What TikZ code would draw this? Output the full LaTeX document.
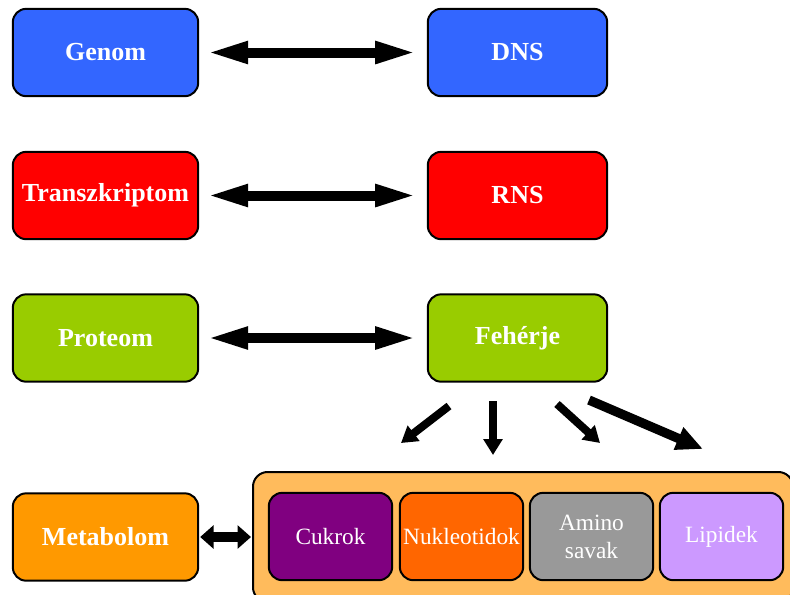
\documentclass[tikz,border=0pt]{standalone}
\usepackage{fontspec}
\setmainfont{Liberation Serif}
\usetikzlibrary{arrows.meta}

\definecolor{genomblue}{HTML}{3366FF}
\definecolor{proteomgreen}{HTML}{99CC00}
\definecolor{metaorange}{HTML}{FF9900}
\definecolor{poolorange}{HTML}{FFBB5C}
\definecolor{sugarpurple}{HTML}{800080}
\definecolor{nucorange}{HTML}{FF6600}
\definecolor{aminogray}{HTML}{999999}
\definecolor{lipidlilac}{HTML}{CC99FF}

\begin{document}
\begin{tikzpicture}[
            x = 0.75pt, y = -0.75pt, % pixel grid
            bigbox/.style = {draw = black, line width = 1.5pt, rounded corners = 10pt,
                             minimum width = 139pt, minimum height = 65.5pt, text = white,
                             font = \fontsize{19.5}{22}\selectfont\bfseries},
            rightbox/.style = {bigbox, minimum width = 134.5pt},
            smallbox/.style = {draw = black, line width = 1.5pt, rounded corners = 10pt,
                               minimum width = 92.5pt, minimum height = 65.5pt, text = white,
                               inner sep = 1pt, align = center,
                               font = \fontsize{17.5}{21}\selectfont},
            twoway/.style = {{Triangle[length=32pt,width=15pt]}-{Triangle[length=32pt,width=15pt]},
                             line width = 7.5pt, shorten < = 4.75pt, shorten > = 6.75pt},
            down/.style = {-{Triangle[length=12pt,width=14pt]}, line width = 6pt},
            longdown/.style = {-{Triangle[length=20pt,width=17pt]}, line width = 7pt}
        ]
\clip (0,0) rectangle (790,594);

\node[bigbox, fill=genomblue] (genom) at (105.5,52.5) {Genom};
\node[rightbox, fill=genomblue] (dns) at (517.5,52.5) {DNS};
\node[bigbox, fill=red] (transzkriptom) at (105.5,195.5) {Transzkriptom};
\node[rightbox, fill=red] (rns) at (517.5,195.5) {RNS};
\node[bigbox, fill=proteomgreen] (proteom) at (105.5,338) {Proteom};
\node[rightbox, fill=proteomgreen] (feherje) at (517.5,338) {Fehérje};
\node[bigbox, fill=metaorange] (metabolom) at (105.5,537) {Metabolom};

% pool of small molecules
\node[draw=black, line width=1.5pt, rounded corners=11pt, fill=poolorange,
      minimum width=405pt, minimum height=97.5pt] (pool) at (523,537) {};
\node[smallbox, fill=sugarpurple] (cukrok) at (330.5,536.5) {Cukrok};
\node[smallbox, fill=nucorange] (nukleotidok) at (461.5,536.5) {Nukleotidok};
\node[smallbox, fill=aminogray] (amino) at (591.5,536.5) {Amino\\savak};
\node[smallbox, fill=lipidlilac] (lipidek) at (721.5,536.5) {Lipidek};

\path [twoway] (genom) edge (dns);
\path [twoway] (transzkriptom) edge (rns);
\path [twoway] (proteom) edge (feherje);
\path [{Triangle[length=10pt,width=17pt]}-{Triangle[length=10pt,width=17pt]}, line width=8pt,
       shorten < = 0.75pt, shorten > = 0.75pt] (metabolom.east) edge (pool.west);

\coordinate (s1) at (449,406);
\coordinate (t1) at (401,443);
\coordinate (s2) at (493,401);
\coordinate (t2) at (493,455);
\coordinate (s3) at (557,404);
\coordinate (t3) at (600,443);
\coordinate (s4) at (589,400);
\coordinate (t4) at (703,449);
\path [down] (s1) edge (t1);
\path [down] (s2) edge (t2);
\path [down] (s3) edge (t3);
\path [longdown] (s4) edge (t4);
\end{tikzpicture}
\end{document}
